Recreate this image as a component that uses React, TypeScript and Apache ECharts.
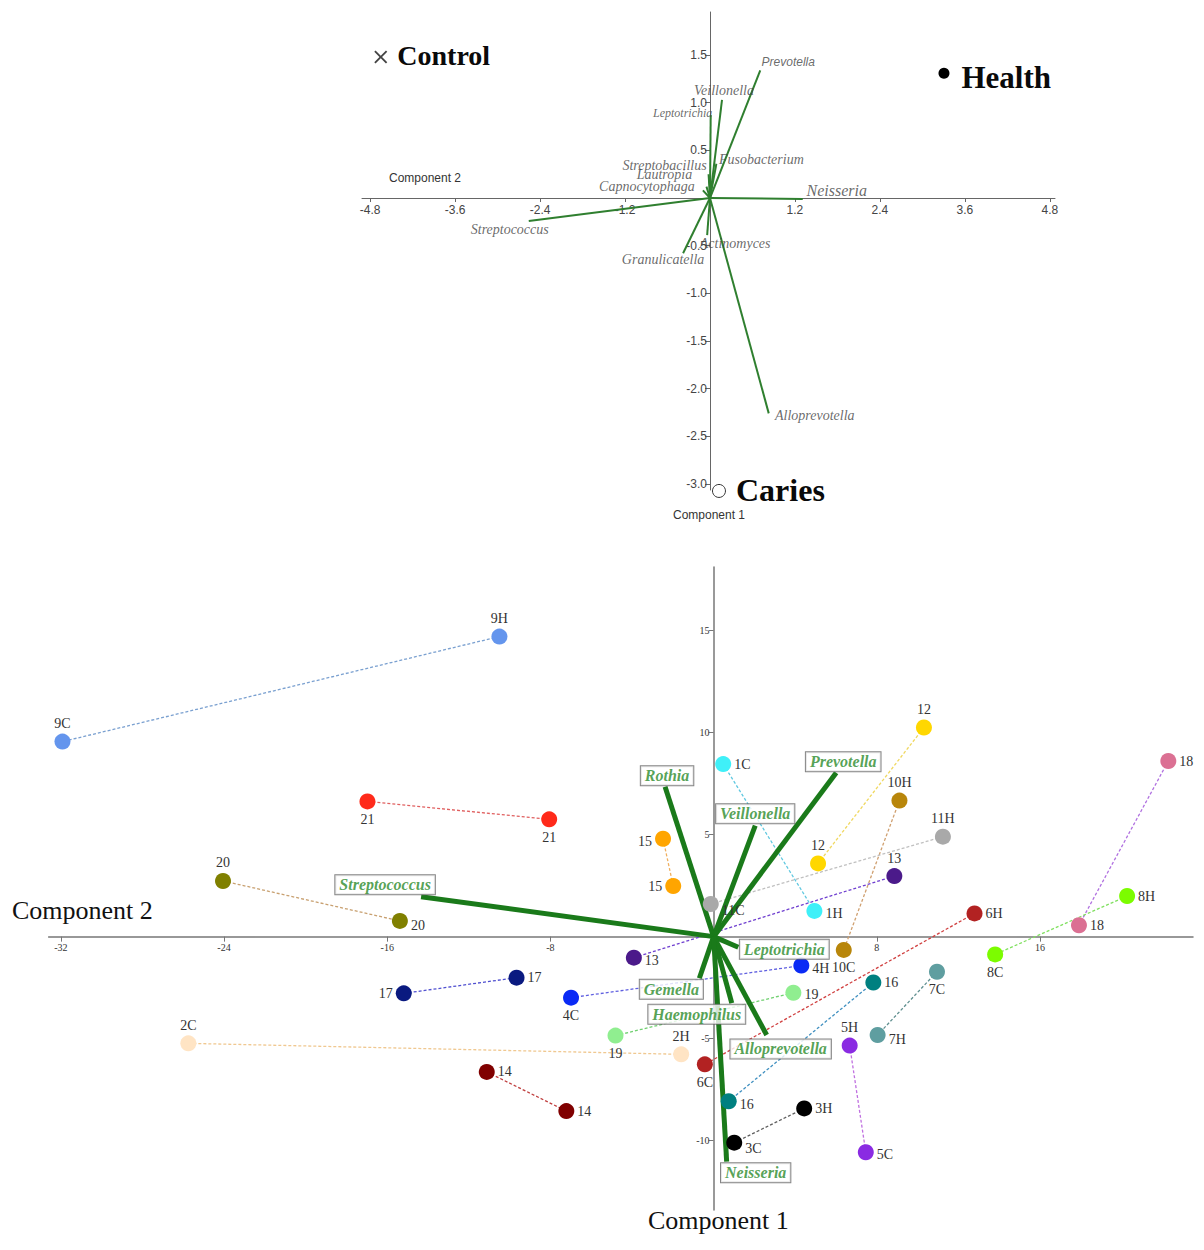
import React, { useEffect, useRef } from "react";
import * as echarts from "echarts";

const SERIF = "'Liberation Serif', 'Times New Roman', serif";
const SANS = "'Liberation Sans', Arial, sans-serif";

// ---------- Top biplot (loadings) ----------
const topSpecies = ["Prevotella", "Veillonella", "Leptotrichia", "Fusobacterium", "Streptobacillus", "Lautropia", "Capnocytophaga", "Neisseria", "Streptococcus", "Actinomyces", "Granulicatella", "Alloprevotella"];
const topX = [0.71, 0.17, 0.01, 0.09, -0.02, -0.05, -0.1, 1.31, -2.56, -0.04, -0.38, 0.83];
const topY = [1.34, 1.03, 0.87, 0.36, 0.25, 0.12, 0.08, -0.01, -0.24, -0.39, -0.58, -2.26];
const topXTicks = [-4.8, -3.6, -2.4, -1.2, 1.2, 2.4, 3.6, 4.8];
const topYTicks = [1.5, 1.0, 0.5, -0.5, -1.0, -1.5, -2.0, -2.5, -3.0];

const groupNames = ["Control", "Health", "Caries"];
const groupX = [-4.65, 3.305, 0.127];
const groupY = [1.48, 1.31, -3.074];

// styles for top labels
const topLabelOffsets = [[28, -8], [2, -9], [-28, -2], [45, -4], [-44, -9], [-42, -12], [-56, -4], [34, -8], [-19, 9], [28, 8], [-20, 6], [46, 2]];
const topLabelSizes = [12, 14, 12, 14, 14, 14, 14, 16, 14, 14, 14, 14];
const topLabelSans = [true, false, false, false, false, false, false, false, false, false, false, false];

// ---------- Bottom biplot (samples + loadings) ----------
const sampleLabels = ["9H", "9C", "21", "21", "20", "20", "17", "17", "4C", "4H", "2C", "2H", "14", "14", "19", "19", "13", "13", "15", "15", "1C", "1H", "12", "12", "10H", "10C", "11H", "11C", "6H", "6C", "16", "16", "7C", "7H", "5H", "5C", "3H", "3C", "18", "18", "8H", "8C"];
const sampleX = [-10.5, -31.92, -16.97, -8.06, -24.05, -15.38, -15.19, -9.66, -6.99, 4.3, -25.75, -1.59, -11.12, -7.22, 3.91, -4.81, 8.86, -3.91, -2.48, -1.98, 0.47, 4.94, 10.31, 5.12, 9.11, 6.38, 11.24, -0.14, 12.79, -0.43, 7.83, 0.74, 10.95, 8.04, 6.67, 7.46, 4.44, 1.01, 22.29, 17.91, 20.27, 13.8];
const sampleY = [14.71, 9.56, 6.63, 5.75, 2.73, 0.77, -2.78, -2.01, -2.99, -1.42, -5.23, -5.77, -6.63, -8.55, -2.75, -4.85, 2.97, -1.03, 4.8, 2.48, 8.46, 1.26, 10.25, 3.59, 6.67, -0.65, 4.9, 1.6, 1.14, -6.26, -2.25, -8.07, -1.72, -4.82, -5.34, -10.57, -8.42, -10.1, 8.61, 0.56, 1.99, -0.87];
// each pair = samples 2i and 2i+1
const pairColors = ["#6495ED", "#FF2A1A", "#808000", "#0A1A80", "#0A2AF5", "#FFE4C4", "#800000", "#90EE90", "#4B1A8A", "#FFA500", "#3FF0F8", "#FFD700", "#B8860B", "#A9A9A9", "#B22222", "#008080", "#5F9EA0", "#8A2BE2", "#000000", "#DB7093", "#7CFC00"];
const pairLineColors = ["#7aa0d0", "#e06060", "#c8a070", "#5050d0", "#6060e0", "#f0c890", "#c04040", "#70d070", "#7040d0", "#f0b060", "#60c8e0", "#f0d860", "#d0a070", "#c0c0c0", "#d04040", "#4090c0", "#609090", "#c070e0", "#606060", "#b070e0", "#80e060"];
const sampleLabelPos = ["top", "top", "bottom", "bottom", "top", "right", "left", "right", "bottom", "right", "top", "top", "right", "right", "right", "bottom", "top", "right", "left", "left", "right", "right", "top", "top", "top", "bottom", "top", "right", "right", "bottom", "right", "right", "bottom", "right", "top", "right", "right", "right", "right", "right", "right", "bottom"];
const sampleLabelDy = [0, 0, 0, 0, 0, 5, 0, 0, 0, 3, 0, 0, 0, 0, 2, 0, 0, 3, 3, 0, 0, 3, 0, 0, 0, 0, 0, 6, 0, 0, 0, 3, 0, 5, 0, 2, 0, 6, 0, 0, 0, 0];

const bottomSpecies = ["Rothia", "Prevotella", "Veillonella", "Streptococcus", "Leptotrichia", "Gemella", "Haemophilus", "Alloprevotella", "Neisseria"];
const bottomX = [-2.38, 6.01, 2.04, -14.34, 1.21, -0.7, 0.89, 2.6, 0.64];
const bottomY = [7.35, 8.04, 5.44, 1.96, -0.52, -2.04, -3.26, -4.82, -11.03];
const bottomBoxOffsets = [[2, -11], [7, -11], [0, -12], [-36, -12], [46, 2], [-28, 11], [-35, 11], [14, 14], [29, 11]];
const bottomXTicks = [-32, -24, -16, -8, 8, 16];
const bottomYTicks = [15, 10, 5, -5, -10];

// axis ranges
const topXRange = [-4.915, 4.873];
const topYRange = [-3.064, 1.952];
const botXRange = [-32.6, 23.5];
const botYRange = [-13.4, 18.12];

const G0 = { left: 362, top: 12, width: 693, height: 478 };
const G1 = { left: 48.6, top: 567, width: 1144.4, height: 643 };

// pixel distance from the min edge of an axis to its value 0
function zeroFromMin(range: number[], size: number) {
  return (-range[0] / (range[1] - range[0])) * size;
}

function buildOption(): any {
  const series: any[] = [];

  // top loadings
  topSpecies.forEach((name, i) => {
    series.push({
      type: "line",
      name,
      xAxisIndex: 0,
      yAxisIndex: 0,
      data: [[0, 0], [topX[i], topY[i]]],
      symbol: "none",
      silent: true,
      lineStyle: { color: "#2f7f2f", width: 2 },
      z: 3,
    });
  });
  series.push({
    type: "scatter",
    xAxisIndex: 0,
    yAxisIndex: 0,
    symbolSize: 1,
    silent: true,
    clip: false,
    itemStyle: { color: "rgba(0,0,0,0)" },
    label: { show: true, position: "inside", formatter: "{b}", fontStyle: "italic", color: "#454545", fontFamily: SERIF },
    data: topSpecies.map((name, i) => ({
      name,
      value: [topX[i], topY[i]],
      label: {
        offset: topLabelOffsets[i],
        fontSize: topLabelSizes[i],
        fontFamily: topLabelSans[i] ? SANS : SERIF,
      },
    })),
    z: 5,
  });
  // group markers
  const groupSymbols = [
    "path://M1,0 L5,4 L9,0 L10,1 L6,5 L10,9 L9,10 L5,6 L1,10 L0,9 L4,5 L0,1 Z",
    "circle",
    "circle",
  ];
  const groupSizes = [13, 11, 13];
  const groupFont = [28, 31, 32];
  const groupDy = [-1, 4, -1];
  series.push({
    type: "scatter",
    xAxisIndex: 0,
    yAxisIndex: 0,
    clip: false,
    silent: true,
    data: groupNames.map((name, i) => ({
      name,
      value: [groupX[i], groupY[i]],
      symbol: groupSymbols[i],
      symbolSize: groupSizes[i],
      itemStyle: i === 2 ? { color: "#fff", borderColor: "#333", borderWidth: 1, opacity: 1 } : { color: i === 0 ? "#444" : "#000", opacity: 1 },
      label: {
        show: true,
        position: "right",
        distance: i === 1 ? 12 : 10,
        offset: [0, groupDy[i]],
        formatter: "{b}",
        fontFamily: SERIF,
        fontWeight: "bold",
        fontSize: groupFont[i],
        color: "#0a0a0a",
      },
    })),
    z: 6,
  });

  // bottom pair lines
  pairColors.forEach((c, p) => {
    series.push({
      type: "line",
      xAxisIndex: 1,
      yAxisIndex: 1,
      data: [
        [sampleX[2 * p], sampleY[2 * p]],
        [sampleX[2 * p + 1], sampleY[2 * p + 1]],
      ],
      symbol: "none",
      silent: true,
      lineStyle: { color: pairLineColors[p], width: 1.3, type: [3, 2] },
      z: 2,
    });
  });
  // bottom loadings
  bottomSpecies.forEach((name, i) => {
    series.push({
      type: "line",
      name,
      xAxisIndex: 1,
      yAxisIndex: 1,
      data: [[0, 0], [bottomX[i], bottomY[i]]],
      symbol: "none",
      silent: true,
      lineStyle: { color: "#1a7a1a", width: 5 },
      z: 3,
    });
  });
  // samples
  series.push({
    type: "scatter",
    xAxisIndex: 1,
    yAxisIndex: 1,
    symbolSize: 16,
    clip: false,
    silent: true,
    label: { show: true, formatter: "{b}", fontFamily: SERIF, fontSize: 14, color: "#333", distance: 3 },
    data: sampleLabels.map((name, i) => ({
      name,
      value: [sampleX[i], sampleY[i]],
      itemStyle: { color: pairColors[Math.floor(i / 2)], opacity: 1 },
      label: { position: sampleLabelPos[i], offset: [0, sampleLabelDy[i]] },
    })),
    z: 4,
  });
  // boxed species labels
  series.push({
    type: "scatter",
    xAxisIndex: 1,
    yAxisIndex: 1,
    symbolSize: 1,
    clip: false,
    silent: true,
    itemStyle: { color: "rgba(0,0,0,0)" },
    label: {
      show: true,
      position: "inside",
      formatter: "{b}",
      fontFamily: SERIF,
      fontStyle: "italic",
      fontWeight: "bold",
      fontSize: 16,
      color: "#2a8a2a",
      backgroundColor: "#fff",
      borderColor: "#666",
      borderWidth: 1,
      padding: [2, 4, 1, 4],
    },
    data: bottomSpecies.map((name, i) => ({
      name,
      value: [bottomX[i], bottomY[i]],
      label: { offset: bottomBoxOffsets[i] },
    })),
    z: 7,
  });

  const topAxisLabel = { fontFamily: SANS, fontSize: 12, color: "#444" };
  const botAxisLabel = { fontFamily: SERIF, fontSize: 10, color: "#333" };

  // offsets that move each axis from the grid edge onto the other axis' zero
  const topXOff = -zeroFromMin(topYRange, G0.height);
  const topYOff = -zeroFromMin(topXRange, G0.width);
  const botXOff = -zeroFromMin(botYRange, G1.height);
  const botYOff = -zeroFromMin(botXRange, G1.width);

  return {
    animation: false,
    backgroundColor: "#fff",
    grid: [
      { ...G0, containLabel: false, outerBoundsMode: "none" },
      { ...G1, containLabel: false, outerBoundsMode: "none" },
    ],
    xAxis: [
      {
        type: "value",
        gridIndex: 0,
        position: "bottom",
        offset: topXOff,
        min: topXRange[0],
        max: topXRange[1],
        axisLine: { onZero: false, lineStyle: { color: "#666", width: 1 } },
        axisTick: { show: true, customValues: topXTicks, length: 4, lineStyle: { color: "#666" } },
        axisLabel: { ...topAxisLabel, customValues: topXTicks, margin: 6, formatter: (v: number) => v.toFixed(1) },
        splitLine: { show: false },
      },
      {
        type: "value",
        gridIndex: 1,
        position: "bottom",
        offset: botXOff,
        min: botXRange[0],
        max: botXRange[1],
        axisLine: { onZero: false, lineStyle: { color: "#777", width: 1.5 } },
        axisTick: { show: true, customValues: bottomXTicks, length: 5, lineStyle: { color: "#777" } },
        axisLabel: { ...botAxisLabel, customValues: bottomXTicks, margin: 6, formatter: (v: number) => String(v) },
        splitLine: { show: false },
      },
    ],
    yAxis: [
      {
        type: "value",
        gridIndex: 0,
        position: "left",
        offset: topYOff,
        min: topYRange[0],
        max: topYRange[1],
        axisLine: { onZero: false, lineStyle: { color: "#666", width: 1 } },
        axisTick: { show: true, customValues: topYTicks, length: 5, lineStyle: { color: "#666" } },
        axisLabel: { ...topAxisLabel, customValues: topYTicks, margin: 3, formatter: (v: number) => v.toFixed(1) },
        splitLine: { show: false },
      },
      {
        type: "value",
        gridIndex: 1,
        position: "left",
        offset: botYOff,
        min: botYRange[0],
        max: botYRange[1],
        axisLine: { onZero: false, lineStyle: { color: "#777", width: 1.5 } },
        axisTick: { show: true, customValues: bottomYTicks, length: 5, lineStyle: { color: "#777" } },
        axisLabel: { ...botAxisLabel, customValues: bottomYTicks, margin: 4, formatter: (v: number) => String(v) },
        splitLine: { show: false },
      },
    ],
    graphic: [
      { type: "text", left: 389, top: 172, style: { text: "Component 2", font: `12px ${SANS}`, fill: "#333" } },
      { type: "text", left: 673, top: 509, style: { text: "Component 1", font: `12px ${SANS}`, fill: "#333" } },
      { type: "text", left: 12, top: 897, style: { text: "Component 2", font: `26px ${SERIF}`, fill: "#111" } },
      { type: "text", left: 648, top: 1207, style: { text: "Component 1", font: `26px ${SERIF}`, fill: "#111" } },
    ],
    series,
  };
}

export default function App() {
  const ref = useRef<HTMLDivElement>(null);
  useEffect(() => {
    if (!ref.current) return;
    const chart = echarts.init(ref.current, undefined, { renderer: "svg" });
    chart.setOption(buildOption());
    return () => chart.dispose();
  }, []);
  return (
    <div
      ref={ref}
      style={{ position: "absolute", left: 0, top: 0, width: 1204, height: 1250, background: "#fff" }}
    />
  );
}
